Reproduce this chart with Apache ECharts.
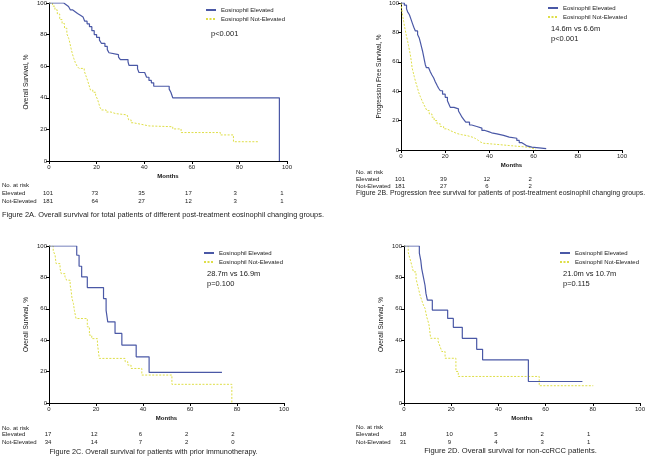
<!DOCTYPE html>
<html><head><meta charset="utf-8">
<script src="https://cdn.jsdelivr.net/npm/echarts@6/dist/echarts.min.js"></script>
<style>html,body{margin:0;padding:0;background:#fff}#c{width:650px;height:465px}</style>
</head><body><div id="c"></div>
<script>
// ---- data (months, survival %) ----
const aElevated = [[0,100],[6.2,98.9],[7.2,97.8],[8.2,96.7],[9,95.6],[10,94.5],[11,93.4],[12,92.3],[13.2,91.2],[14.3,90.1],[15,88.5],[16,86.8],[17,85],[18,82.5],[19,80],[20,78.3],[21.2,76.5],[22,74.5],[23.5,72.5],[24.5,70.5],[25.2,68.5],[26,67.3],[29.2,65.8],[30,64.2],[33.2,62.8],[33.6,60.5],[37.2,58.3],[37.8,56],[40.2,55],[41,53],[42,51],[43,49.5],[44,47.3],[50.5,45.5],[51.2,43.5],[52,40],[96.8,0]];
const aNotElevated = [[0,100],[1.5,98],[2.5,95.6],[3.5,93],[4.5,89.5],[5.5,87],[6.5,84],[7.5,80.5],[8.3,77.5],[8.8,74.5],[9.3,71],[9.8,68],[10.4,65],[11,62.5],[11.8,60],[12.6,58.6],[14.8,57],[15.5,54],[16.2,51],[16.8,48],[17.4,45],[18.4,43.5],[19.6,41.5],[20.4,39],[20.9,36.5],[21.4,34],[22,32.3],[24,31],[26,30],[28,29.2],[32.8,28],[33.5,26],[34.5,24.2],[35.4,23],[39.5,22.2],[42,21.7],[52,20.3],[55.5,18],[72,16.5],[77.5,12.2],[87.8,12.2]];
const bElevated = [[0,100],[1.5,98.5],[2.5,96],[3,94],[3.8,92],[4.5,89],[5.2,86],[5.8,83.5],[6.5,81],[7.5,78.5],[8.3,76],[8.8,73],[9.3,70],[9.8,67],[10.2,64],[10.6,61],[11,58],[11.5,56],[12.5,55],[13.3,53],[14,51],[14.8,49],[15.5,46.5],[16.3,44],[17,42],[17.8,40.3],[18.8,38],[20,35.8],[21,33.5],[21.6,31.5],[22.3,29],[24,28],[26,26.5],[26.8,24.5],[27.6,22.3],[28.5,20.5],[29.3,18.9],[31,17],[32,16],[34.3,14.9],[36.6,13.3],[38,12.5],[39.6,11.7],[41,11],[43.4,9.9],[46.4,8.8],[49,8],[52.4,6.5],[53.5,5],[54.7,3.8],[56,2.8],[57,2],[59.2,0.9],[65.7,0.9]];
const bNotElevated = [[0,100],[0.3,96],[0.6,93],[0.9,90],[1.2,87.5],[1.6,84],[2,81],[2.4,78],[3,74],[3.4,71],[3.8,68],[4.2,65],[4.5,62],[4.8,59],[5,56],[5.5,53],[6,50],[6.5,47],[7,44.5],[7.5,42],[8,39.2],[8.7,36.5],[9.5,33.6],[10.3,31],[11,29],[11.7,26.8],[12.8,24.5],[14,22.3],[15,20],[16.3,17.8],[17.8,16],[19.3,14.4],[20.8,13.2],[22.3,12.2],[23.8,11.2],[25.3,10.4],[27.5,9.8],[29.8,9.2],[31.3,8.5],[32.8,7.7],[33.8,6.5],[35,5.4],[36,4.6],[37.3,3.8],[43.4,2.9],[50,2],[57,1.4],[59,0.5],[61,0.5]];
const cElevated = [[0,100],[11.8,94.1],[12.8,87.1],[13.9,80.3],[16.3,73.5],[23.2,66.5],[24.3,59],[25,51.7],[28.1,44.3],[31,36.9],[37.1,29.4],[42.6,19.5],[73.6,19.5]];
const cNotElevated = [[0,100],[1.8,97],[2.6,94],[3,88.8],[4.7,85.6],[5.2,82.4],[6.8,80.3],[7.5,78.2],[9,75],[9.4,71.8],[9.8,66.5],[10.4,63.3],[10.8,59],[11.5,53.8],[16.3,48.5],[17.2,43.2],[18.2,41],[20.6,37.9],[21.4,28.4],[32.4,26.3],[33.5,24.2],[34.9,22],[39.5,17.8],[52.3,11.9],[77.8,0]];
const dElevated = [[0,100],[6.5,95.5],[7.1,90.9],[7.5,85.6],[8.2,80.3],[8.9,75],[9.3,69.8],[9.9,65.5],[12,59.2],[18.5,53.9],[20.9,48.2],[24.7,41.2],[30.8,34.2],[33.3,27.5],[52.7,13.7],[75.6,13.7]];
const dNotElevated = [[0,100],[1.8,96],[2.3,93],[2.8,90.5],[3.4,87],[4,83.5],[5.1,79.3],[5.6,76],[6.1,73],[6.8,68.7],[7.5,65.5],[8.2,62.4],[8.9,60.3],[9.6,55],[10.1,52.5],[10.6,49.7],[11.3,41.2],[14.5,39],[15.3,35.9],[16,32.8],[17.4,28.5],[22,20.1],[23,16.9],[57.3,11],[80.2,11]];

const seriesNames = ['Eosinophil Elevated', 'Eosinophil Not-Elevated'];
const xTicks = [0, 20, 40, 60, 80, 100];
const yTicks = [0, 20, 40, 60, 80, 100];
const yTitles = ['Overall Survival, %', 'Progression Free Survival, %', 'Overall Survival, %', 'Overall Survival, %'];
const xTitle = 'Months';
const statsA = ['p<0.001'];
const statsB = ['14.6m vs 6.6m', 'p<0.001'];
const statsC = ['28.7m vs 16.9m', 'p=0.100'];
const statsD = ['21.0m vs 10.7m', 'p=0.115'];
const riskRowLabels = ['No. at risk', 'Elevated', 'Not-Elevated'];
const riskAElev = [101, 73, 35, 17, 3, 1];
const riskANot = [181, 64, 27, 12, 3, 1];
const riskBElev = [101, 39, 12, 2];
const riskBNot = [181, 27, 6, 2];
const riskCElev = [17, 12, 6, 2, 2];
const riskCNot = [34, 14, 7, 2, 0];
const riskDElev = [18, 10, 5, 2, 1];
const riskDNot = [31, 9, 4, 3, 1];
const captions = [
  'Figure 2A. Overall survival for total patients of different post-treatment eosinophil changing groups.',
  'Figure 2B. Progression free survival for patients of post-treatment eosinophil changing groups.',
  'Figure 2C. Overall survival for patients with prior immunotherapy.',
  'Figure 2D. Overall survival for non-ccRCC patients.'
];

// ---- layout/styling ----
const FONT = 'Liberation Sans, Arial, sans-serif';
const BLUE = '#4a58a6';
const YELLOW = '#dede48';
const grids = [
  {left: 49, top: 3, width: 238, height: 158},
  {left: 401, top: 2, width: 221, height: 148},
  {left: 49, top: 246, width: 235, height: 157},
  {left: 404, top: 246, width: 236, height: 157}
];
const yNameGap = [19, 18, 19, 19];
const panelData = [[aElevated, aNotElevated],[bElevated, bNotElevated],[cElevated, cNotElevated],[dElevated, dNotElevated]];
const legendPos = [{left: 205, top: 7},{left: 547, top: 5},{left: 203, top: 250},{left: 559, top: 250}];
const statsPos = [{x: 211, y: 34, t: statsA},{x: 551, y: 29, t: statsB},{x: 207, y: 274, t: statsC},{x: 563, y: 274, t: statsD}];
const riskTables = [
  {lx: 2, ys: [185, 193, 201], elev: riskAElev, not: riskANot},
  {lx: 356, ys: [172, 179.5, 186], elev: riskBElev, not: riskBNot},
  {lx: 2, ys: [428, 434.5, 442], elev: riskCElev, not: riskCNot},
  {lx: 356, ys: [427, 434.5, 442], elev: riskDElev, not: riskDNot}
];
const captionPos = [
  {x: 2, y: 215, align: 'left', size: 7.4},
  {x: 356, y: 193, align: 'left', size: 6.95},
  {x: 153.5, y: 452, align: 'center', size: 7.25},
  {x: 510.5, y: 451, align: 'center', size: 7.6}
];

const axisLine = {show: true, lineStyle: {color: '#000', width: 1}};
const xAxes = grids.map((g, i) => ({
  type: 'value', gridIndex: i, min: 0, max: 100, interval: 20,
  axisLine, axisTick: {show: true, length: 3, lineStyle: {color: '#000'}},
  splitLine: {show: false},
  axisLabel: {fontSize: 6, color: '#222', margin: 3, fontFamily: FONT},
  name: xTitle, nameLocation: 'middle', nameGap: 12,
  nameTextStyle: {fontSize: 6, fontWeight: 'bold', color: '#111', fontFamily: FONT}
}));
const yAxes = grids.map((g, i) => ({
  type: 'value', gridIndex: i, min: 0, max: 100, interval: 20,
  axisLine, axisTick: {show: true, length: 3, lineStyle: {color: '#000'}},
  splitLine: {show: false},
  axisLabel: {fontSize: 6, color: '#222', margin: 2, fontFamily: FONT},
  name: yTitles[i], nameLocation: 'middle', nameGap: yNameGap[i], nameRotate: 90,
  nameTextStyle: {fontSize: 6.5, color: '#111', fontFamily: FONT}
}));
const series = [];
panelData.forEach((pair, i) => {
  series.push({name: seriesNames[0], type: 'line', step: 'end', xAxisIndex: i, yAxisIndex: i,
    data: pair[0], symbol: 'none', lineStyle: {color: BLUE, width: 1.2}, itemStyle: {color: BLUE}, animation: false, z: 3});
  series.push({name: seriesNames[1], type: 'line', step: 'end', xAxisIndex: i, yAxisIndex: i,
    data: pair[1], symbol: 'none', lineStyle: {color: YELLOW, width: 1, type: [2, 1.5]}, itemStyle: {color: YELLOW}, animation: false, z: 2});
});
const legends = legendPos.map(p => ({
  left: p.left, top: p.top, orient: 'vertical', itemWidth: 10, itemHeight: 6, itemGap: 3, padding: 0,
  selectedMode: false, data: seriesNames, itemStyle: {opacity: 0},
  textStyle: {fontSize: 6, color: '#222', fontFamily: FONT}
}));

const chart = echarts.init(document.getElementById('c'), null, {renderer: 'canvas'});
chart.setOption({
  animation: false,
  grid: grids.map(g => Object.assign({containLabel: false}, g)),
  xAxis: xAxes, yAxis: yAxes, series, legend: legends
});

// text graphics
const graphics = [];
statsPos.forEach(s => {
  s.t.forEach((txt, k) => {
    graphics.push({type: 'text', left: s.x, top: s.y + k * 10.5 - 4.5,
      style: {text: txt, fontSize: 7.5, fill: '#222', fontFamily: FONT}});
  });
});
riskTables.forEach((rt, i) => {
  riskRowLabels.forEach((lab, k) => {
    graphics.push({type: 'text', x: rt.lx, y: rt.ys[k],
      style: {text: lab, fontSize: 6, fill: '#222', fontFamily: FONT, textVerticalAlign: 'middle', verticalAlign: 'middle'}});
  });
  [rt.elev, rt.not].forEach((row, r) => {
    row.forEach((v, j) => {
      const px = chart.convertToPixel({gridIndex: i}, [xTicks[j], 0])[0] - 1 - j * 0.8;
      graphics.push({type: 'text', x: px, y: rt.ys[r + 1],
        style: {text: String(v), fontSize: 6, fill: '#222', fontFamily: FONT, align: 'center', textAlign: 'center', verticalAlign: 'middle', textVerticalAlign: 'middle'}});
    });
  });
});
captionPos.forEach((c, i) => {
  graphics.push({type: 'text', x: c.x, y: c.y,
    style: {text: captions[i], fontSize: c.size, fill: '#222', fontFamily: FONT, align: c.align, textAlign: c.align, verticalAlign: 'middle', textVerticalAlign: 'middle'}});
});
chart.setOption({graphic: graphics});
</script></body></html>
